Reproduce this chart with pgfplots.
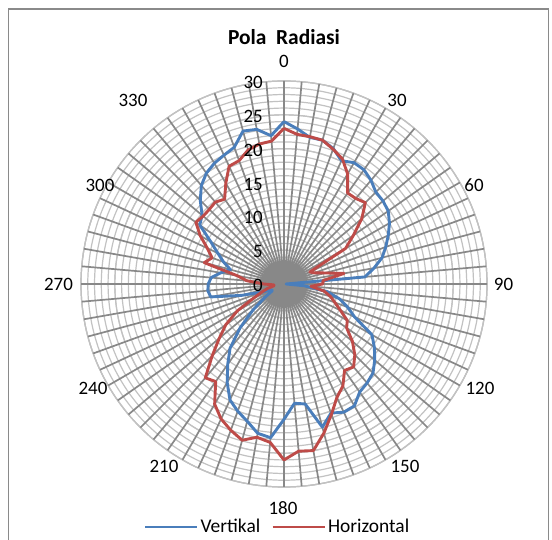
\documentclass[border=0pt]{standalone}
\usepackage{fontspec}
\setmainfont{Carlito}
\usepackage{pgfplots}
\pgfplotsset{compat=1.18}
\usepgfplotslibrary{polar}
\usepackage{pgfplotstable}
\definecolor{vblue}{HTML}{4A7EBB}
\definecolor{hred}{HTML}{BE4B48}
\definecolor{spoke}{HTML}{888888}
\definecolor{ring}{HTML}{C2C2C2}
\definecolor{frame}{HTML}{8A8A8A}
\pgfplotstableread{
a v h
0 24.0 23.0
5 23.0 22.2
10 22.0 22.1
15 22.0 22.0
20 21.3 21.2
25 20.1 20.4
30 20.7 18.8
35 20.6 16.4
40 20.0 16.5
45 19.2 17.0
50 19.1 15.0
55 18.8 12.5
60 18.0 10.5
65 17.0 4.2
70 16.0 4.8
75 15.0 6.3
80 13.5 9.0
85 12.0 5.8
90 0.3 5.7
95 3.0 4.0
100 6.5 6.0
105 8.5 7.1
110 10.0 8.0
115 11.5 9.2
120 15.0 10.8
125 16.3 11.3
130 17.5 13.2
135 18.6 14.8
140 19.1 16.0
145 19.5 15.6
150 20.8 17.4
155 20.9 18.5
160 20.3 20.5
165 21.9 22.8
170 18.0 25.0
175 17.7 24.8
180 20.0 26.0
185 22.8 23.5
190 22.4 23.0
195 21.0 23.9
200 20.0 23.0
205 18.9 22.0
210 16.8 20.5
215 14.5 17.6
220 12.4 18.1
225 9.2 15.0
230 6.0 12.5
235 3.5 10.5
240 2.0 8.0
245 2.0 5.0
250 3.5 3.5
255 6.5 2.5
260 11.0 1.5
265 11.3 1.5
270 11.2 3.0
275 10.8 5.5
280 9.5 7.0
285 8.2 12.2
290 9.5 11.3
295 10.8 12.5
300 12.5 14.3
305 15.2 15.9
310 15.8 15.6
315 17.5 15.6
320 19.0 15.8
325 20.0 15.3
330 20.6 17.2
335 21.0 19.2
340 21.5 19.4
345 23.4 20.5
350 23.2 21.0
355 22.0 21.2
360 24.0 23.0
}\datatable
\newcommand{\lbl}{\fontsize{19}{23}\selectfont}
\begin{document}
\begin{tikzpicture}[x=1bp,y=1bp]
\useasboundingbox (0,0) rectangle (552,540);
\draw[color=frame, line width=1.4bp] (8.5,-5) rectangle (548.5,531);
\node[font=\bfseries\fontsize{21.5}{25}\selectfont] at (284,503) {Pola\ \ Radiasi};
\begin{polaraxis}[
  at={(284bp,256bp)}, anchor=center,
  scale only axis, width=406bp, height=406bp,
  clip=false,
  xmin=0, xmax=360, ymin=0, ymax=30,
  xtick=\empty,
  extra x ticks={0,5,...,355}, extra x tick labels={},
  extra x tick style={grid=major, major grid style={spoke, line width=1.7bp}},
  ytick={0,5,...,30}, yticklabels={},
  minor ytick={0,1,...,30},
  ymajorgrids, yminorgrids,
  major y grid style={ring, line width=1.2bp},
  minor y grid style={ring, line width=1.2bp},
  major tick length=0pt, minor tick length=0pt,
  x axis line style={ring, line width=1.2bp},
  y axis line style={draw=none},
  legend style={draw=none, fill=none, at={(0.484,-0.0985)}, anchor=center,
    legend columns=2, font=\fontsize{19.5}{23}\selectfont,
    /tikz/every even column/.append style={column sep=9bp}},
  legend image code/.code={\draw[#1] (0bp,0bp) -- (52bp,0bp);},
]
\addplot[vblue, line width=2.9bp, line join=round, no markers]
  table[x expr={mod(450-\thisrow{a},360)}, y=v] {\datatable};
\addlegendentry{Vertikal}
\addplot[hred, line width=2.9bp, line join=round, no markers]
  table[x expr={mod(450-\thisrow{a},360)}, y=h] {\datatable};
\addlegendentry{Horizontal}
\node[anchor=east, font=\lbl, inner sep=0pt, xshift=-21bp, yshift=-1.5bp] at (axis cs:90,0) {0};
\node[anchor=east, font=\lbl, inner sep=0pt, xshift=-21bp, yshift=-1.5bp] at (axis cs:90,5) {5};
\node[anchor=east, font=\lbl, inner sep=0pt, xshift=-21bp, yshift=-1.5bp] at (axis cs:90,10) {10};
\node[anchor=east, font=\lbl, inner sep=0pt, xshift=-21bp, yshift=-1.5bp] at (axis cs:90,15) {15};
\node[anchor=east, font=\lbl, inner sep=0pt, xshift=-21bp, yshift=-1.5bp] at (axis cs:90,20) {20};
\node[anchor=east, font=\lbl, inner sep=0pt, xshift=-21bp, yshift=-1.5bp] at (axis cs:90,25) {25};
\node[anchor=east, font=\lbl, inner sep=0pt, xshift=-21bp, yshift=-1.5bp] at (axis cs:90,30) {30};
\end{polaraxis}
\begin{scope}[every node/.style={font=\lbl, inner sep=0pt}]
\node at (284,479) {0};
\node at (397,440) {30};
\node at (474,355) {60};
\node at (503.5,256) {90};
\node at (480,152) {120};
\node at (405,74) {150};
\node at (283,32) {180};
\node at (164,74) {210};
\node at (93,152) {240};
\node at (58.5,256) {270};
\node at (100,355) {300};
\node at (133,440) {330};
\end{scope}
\end{tikzpicture}
\end{document}
